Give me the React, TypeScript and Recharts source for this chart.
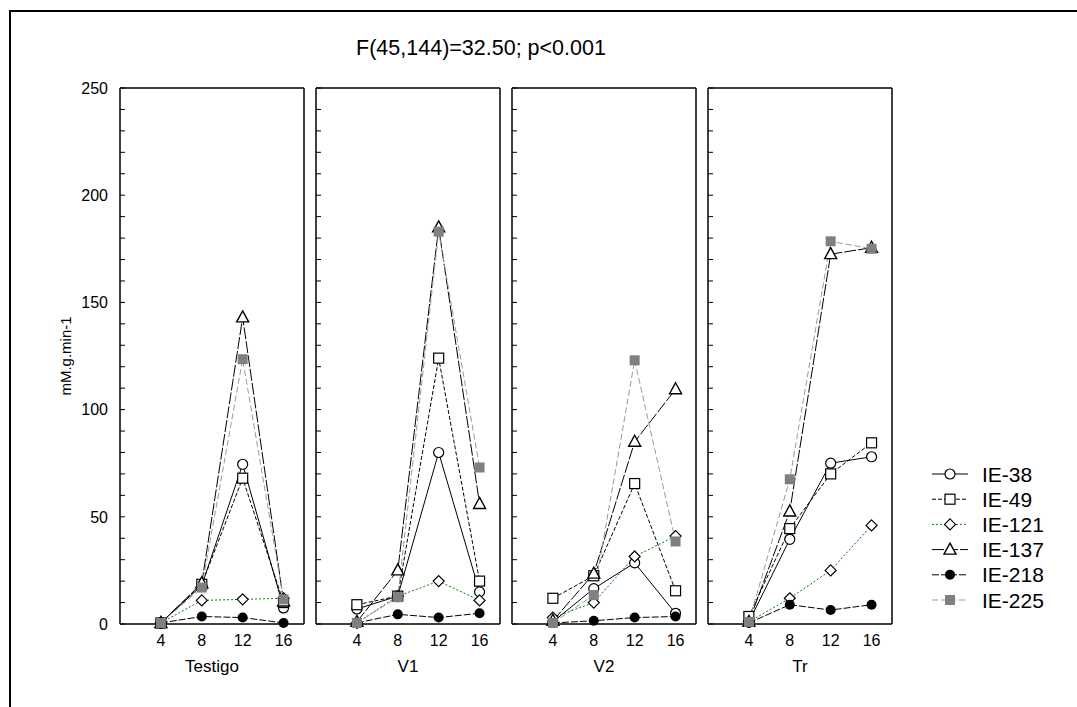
import React from 'react';
import { LineChart, Line, XAxis, YAxis, Legend } from 'recharts';

const categories = [4, 8, 12, 16];
const panelNames = ['Testigo', 'V1', 'V2', 'Tr'];
const seriesNames = ['IE-38', 'IE-49', 'IE-121', 'IE-137', 'IE-218', 'IE-225'];
const yTicks = [0, 10, 20, 30, 40, 50, 60, 70, 80, 90, 100, 110, 120, 130, 140, 150, 160, 170, 180, 190, 200, 210, 220, 230, 240, 250];
const yLabelTicks = [0, 50, 100, 150, 200, 250];
const titleText = 'F(45,144)=32.50; p<0.001';
const yAxisTitle = 'mM.g.min-1';

// values per panel [Testigo, V1, V2, Tr], each at categories 4, 8, 12, 16
const ie38 = [[0.5, 18, 74.5, 7.5], [7, 13, 80, 15], [1, 16.5, 28.5, 5], [1, 39.5, 75, 78]];
const ie49 = [[0.5, 18.5, 68, 10], [9, 13, 124, 20], [12, 22.5, 65.5, 15.5], [3.5, 44.5, 70, 84.5]];
const ie121 = [[0.5, 11, 11.5, 12], [0.5, 13, 20, 11], [3, 10, 31.5, 41], [1, 12, 25, 46]];
const ie137 = [[0.5, 19, 143, 10.5], [1, 25, 185, 56], [1.5, 23.5, 85, 109.5], [1, 52.5, 172.5, 175.5]];
const ie218 = [[0.5, 3.5, 3, 0.5], [0.5, 4.5, 3, 5], [0.5, 1.5, 3, 3.5], [0.5, 9, 6.5, 9]];
const ie225 = [[0.5, 17, 123.5, 11.5], [0.5, 12.5, 183, 73], [0.5, 13.5, 123, 38.5], [1, 67.5, 178.5, 175]];

const seriesValues = [ie38, ie49, ie121, ie137, ie218, ie225];

const styles = [
  { stroke: '#000000', dash: undefined, marker: 'circle' },
  { stroke: '#000000', dash: '4 2', marker: 'square' },
  { stroke: '#008000', dash: '2 2', marker: 'diamond' },
  { stroke: '#000000', dash: '12 2', marker: 'triangle' },
  { stroke: '#000000', dash: '7 2', marker: 'dot' },
  { stroke: '#9a9a9a', dash: '6 3', marker: 'gsquare' },
];

const panelData = panelNames.map((_, pi) =>
  categories.map((c, ci) => {
    const row: any = { x: c };
    seriesNames.forEach((s, si) => {
      row[s] = seriesValues[si][pi][ci];
    });
    return row;
  })
);

function MarkerShape({ kind, cx, cy }: { kind: string; cx: number; cy: number }) {
  if (cx == null || cy == null) return <g />;
  switch (kind) {
    case 'circle':
      return <circle cx={cx} cy={cy} r={5} fill="#fff" stroke="#000" strokeWidth={1.2} />;
    case 'square':
      return <rect x={cx - 5} y={cy - 5} width={10} height={10} fill="#fff" stroke="#000" strokeWidth={1.2} />;
    case 'diamond':
      return (
        <polygon
          points={`${cx},${cy - 5.5} ${cx + 5.5},${cy} ${cx},${cy + 5.5} ${cx - 5.5},${cy}`}
          fill="#fff"
          stroke="#000"
          strokeWidth={1.2}
        />
      );
    case 'triangle':
      return (
        <polygon
          points={`${cx},${cy - 6.5} ${cx + 6},${cy + 4.5} ${cx - 6},${cy + 4.5}`}
          fill="#fff"
          stroke="#000"
          strokeWidth={1.4}
        />
      );
    case 'dot':
      return <circle cx={cx} cy={cy} r={5} fill="#000" />;
    case 'gsquare':
      return <rect x={cx - 5} y={cy - 5} width={10} height={10} fill="#808080" />;
    default:
      return <g />;
  }
}

const FONT = '"Liberation Sans", Arial, sans-serif';
const axisLine = { stroke: '#000', strokeWidth: 1.5 };
const tickLine = { stroke: '#000', strokeWidth: 1 };

function LegendContent() {
  return (
    <svg width={150} height={160} style={{ overflow: 'visible' }}>
      {seriesNames.map((name, i) => {
        const st = styles[i];
        const y = 13 + i * 25.2;
        return (
          <g key={name}>
            <line x1={2} x2={38} y1={y} y2={y} stroke={st.stroke} strokeWidth={1} strokeDasharray={st.dash} />
            <MarkerShape kind={st.marker} cx={20} cy={y} />
            <text x={52} y={y} dy="0.36em" fontSize={21} fontFamily={FONT} fill="#000">
              {name}
            </text>
          </g>
        );
      })}
    </svg>
  );
}

const PLOT_TOP = 88;
const PLOT_H = 536;
const PLOT_W = 184;
const TOP_AXIS_H = 20;
const BOTTOM_AXIS_H = 60;
const RIGHT_AXIS_W = 10;

function Panel({ pi }: { pi: number }) {
  const plotLeft = 120 + 196 * pi;
  const yw = pi === 0 ? 90 : 10;
  const chartLeft = plotLeft - yw;
  const chartTop = PLOT_TOP - TOP_AXIS_H;
  const isLast = pi === panelNames.length - 1;
  const width = isLast ? 1077 - chartLeft : yw + PLOT_W + RIGHT_AXIS_W;
  const marginRight = width - yw - PLOT_W - RIGHT_AXIS_W;
  const height = TOP_AXIS_H + PLOT_H + BOTTOM_AXIS_H;
  return (
    <div style={{ position: 'absolute', left: chartLeft, top: chartTop }}>
      <LineChart
        width={width}
        height={height}
        data={panelData[pi]}
        margin={{ top: 0, right: marginRight, bottom: 0, left: 0 }}
      >
        <XAxis
          dataKey="x"
          type="number"
          domain={[0, 18]}
          ticks={categories}
          interval={0}
          height={BOTTOM_AXIS_H}
          axisLine={axisLine}
          tickLine={false}
          tickSize={6}
          tickMargin={5}
          tick={{ fontSize: 16, fill: '#000', fontFamily: FONT }}
          label={{
            content: (props: any) => {
              const vb = props.viewBox || {};
              return (
                <text x={vb.x + vb.width / 2} y={vb.y + 48} textAnchor="middle" fontSize={17} fontFamily={FONT} fill="#000">
                  {panelNames[pi]}
                </text>
              );
            },
          }}
        />
        <XAxis
          xAxisId="top"
          orientation="top"
          dataKey="x"
          type="number"
          domain={[0, 18]}
          ticks={categories}
          interval={0}
          height={TOP_AXIS_H}
          axisLine={axisLine}
          tickLine={tickLine}
          tickSize={-5}
          tick={false}
        />
        <YAxis
          type="number"
          domain={[0, 250]}
          ticks={yTicks}
          interval={0}
          width={yw}
          axisLine={axisLine}
          tickLine={tickLine}
          tickSize={-5}
          tickMargin={17}
          tick={(p: any) =>
            pi === 0 && yLabelTicks.includes(p.payload.value) ? (
              <text key={p.index} x={p.x} y={p.y} dy="0.36em" textAnchor="end" fontSize={16} fontFamily={FONT} fill="#000">
                {p.payload.value}
              </text>
            ) : (
              <g key={p.index} />
            )
          }
          label={
            pi === 0
              ? {
                  content: (props: any) => {
                    const vb = props.viewBox || {};
                    const cx = vb.x + 35;
                    const cy = vb.y + vb.height / 2;
                    return (
                      <text
                        x={cx}
                        y={cy}
                        transform={`rotate(-90, ${cx}, ${cy})`}
                        textAnchor="middle"
                        dominantBaseline="central"
                        fontSize={15}
                        fontFamily={FONT}
                        fill="#000"
                      >
                        {yAxisTitle}
                      </text>
                    );
                  },
                }
              : undefined
          }
        />
        <YAxis
          yAxisId="right"
          orientation="right"
          type="number"
          domain={[0, 250]}
          ticks={yTicks}
          interval={0}
          width={RIGHT_AXIS_W}
          axisLine={axisLine}
          tickLine={tickLine}
          tickSize={-5}
          tick={false}
        />
        {seriesNames.map((name, si) => (
          <Line
            key={name}
            dataKey={name}
            stroke={styles[si].stroke}
            strokeWidth={1}
            strokeDasharray={styles[si].dash}
            isAnimationActive={false}
            activeDot={false}
            dot={(p: any) => <MarkerShape key={`${name}-${p.index}`} kind={styles[si].marker} cx={p.cx} cy={p.cy} />}
          />
        ))}
        {isLast && (
          <Legend
            layout="vertical"
            align="center"
            verticalAlign="middle"
            content={() => <LegendContent />}
            wrapperStyle={{ left: 930 - chartLeft, top: 461 - chartTop, width: 150, height: 160 }}
          />
        )}
      </LineChart>
    </div>
  );
}

export default function App() {
  return (
    <div
      style={{
        position: 'absolute',
        left: 0,
        top: 0,
        width: 1077,
        height: 707,
        overflow: 'hidden',
        background: '#fff',
        fontFamily: FONT,
      }}
    >
      <div
        style={{
          position: 'absolute',
          left: 9,
          top: 10,
          width: 1200,
          height: 800,
          borderLeft: '2px solid #000',
          borderTop: '2px solid #000',
        }}
      />
      <div
        style={{
          position: 'absolute',
          left: 281,
          top: 33,
          width: 400,
          textAlign: 'center',
          fontSize: 21.5,
          lineHeight: '30px',
          color: '#000',
        }}
      >
        {titleText}
      </div>
      {panelNames.map((_, pi) => (
        <Panel key={pi} pi={pi} />
      ))}
    </div>
  );
}
